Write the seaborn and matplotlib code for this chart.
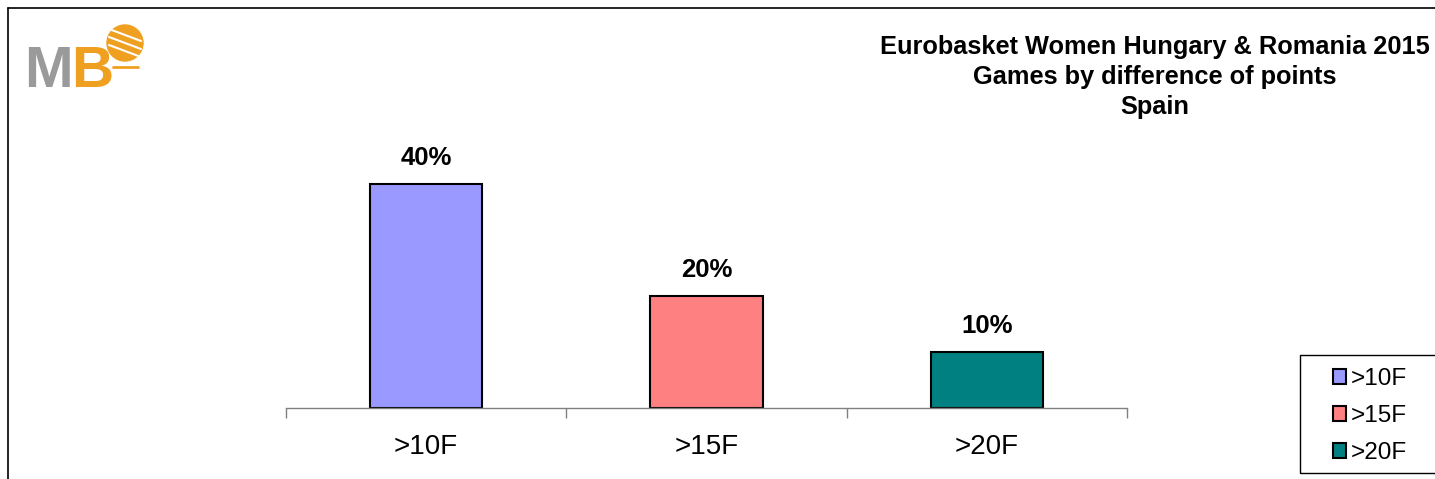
import matplotlib
matplotlib.use("Agg")
import matplotlib.pyplot as plt
import seaborn as sns
import pandas as pd
from matplotlib.patches import Patch, Ellipse, Rectangle
from matplotlib.lines import Line2D

# data
categories = [">10F", ">15F", ">20F"]
percentages = [40, 20, 10]
colors = ["#9999FF", "#FF8080", "#008080"]
title_lines = ["Eurobasket Women Hungary & Romania 2015",
               "Games by difference of points",
               "Spain"]

df = pd.DataFrame({"cat": categories, "pct": percentages})

sns.set_style("white")
plt.rcParams["font.family"] = ["Liberation Sans", "DejaVu Sans"]
plt.rcParams["text.color"] = "black"
plt.rcParams["xtick.color"] = "black"

fig = plt.figure(figsize=(14.35, 4.79), dpi=100)
W, H = 1435, 479
ax = fig.add_axes([286 / W, 1 - 408 / H, (1127 - 286) / W, (408 - 130) / H])

sns.barplot(data=df, x="cat", y="pct", hue="cat", palette=colors, saturation=1,
            width=0.4, edgecolor="black", linewidth=1.5, legend=False, ax=ax)

for cont, v in zip(ax.containers, percentages):
    ax.bar_label(cont, labels=[f"{v}%"], padding=10, fontsize=18.5,
                 fontweight="bold", color="black")

ax.set_ylim(0, (408 - 130) / 5.6)
ax.set_xlim(-0.5, 2.5)
ax.set_xlabel("")
ax.set_ylabel("")
ax.set_yticks([])

# ticks at category boundaries, labels at centres
ax.set_xticks([-0.5, 0.5, 1.5, 2.5])
ax.set_xticklabels([])
ax.set_xticks([0, 1, 2], minor=True)
ax.set_xticklabels(categories, minor=True, fontsize=20)
ax.tick_params(axis="x", which="major", direction="out", length=7,
               width=1, color="#808080", bottom=True)
ax.tick_params(axis="x", which="minor", length=0, pad=19, labelcolor="black")

for s in ["top", "right", "left"]:
    ax.spines[s].set_visible(False)
ax.spines["bottom"].set_color("#808080")
ax.spines["bottom"].set_linewidth(1)

# title
fig.text(1155 / W, 1 - 77 / H, "\n".join(title_lines), ha="center", va="center",
         fontsize=18.3, fontweight="bold", linespacing=1.33, color="black")

# legend
handles = [Patch(facecolor=c, edgecolor="black", linewidth=1.5, label=l)
           for c, l in zip(colors, categories)]
fig.legend(handles=handles, loc="center left",
           bbox_to_anchor=(1333 / W, 1 - 416 / H),
           frameon=False, fontsize=17.5,
           handlelength=0.55, handleheight=0.55, handletextpad=0.2,
           labelspacing=0.62, borderpad=0, borderaxespad=0)
fig.add_artist(Rectangle((1300 / W, 1 - 473 / H), 150 / W, 118 / H,
                         facecolor="none", edgecolor="black", lw=1,
                         transform=fig.transFigure))

# outer frame of the picture
fig.add_artist(Line2D([8 / W, 8 / W], [0, 1 - 8 / H], color="black", lw=1.2,
                      transform=fig.transFigure))
fig.add_artist(Line2D([8 / W, 1], [1 - 8 / H, 1 - 8 / H], color="black", lw=1.2,
                      transform=fig.transFigure))

# logo
fig.text(24 / W, 1 - 87 / H, "M", color="#9a9a9a", fontsize=42, fontweight="bold",
         ha="left", va="baseline")
fig.text(71 / W, 1 - 87 / H, "B", color="#f0a020", fontsize=42, fontweight="bold",
         ha="left", va="baseline")
fig.add_artist(Ellipse((125 / W, 1 - 43 / H), 36 / W, 36 / H, color="#f0a020",
                       transform=fig.transFigure))
for dy in (-8, 0, 8):
    fig.add_artist(Line2D([109 / W, 141 / W], [1 - (43 + dy - 6) / H, 1 - (43 + dy + 6) / H],
                          color="white", lw=1.5, transform=fig.transFigure))
fig.add_artist(Line2D([113 / W, 138 / W], [1 - 67 / H, 1 - 67 / H], color="#f0a020",
                      lw=2, transform=fig.transFigure))

fig.savefig("out.png", dpi=100)
